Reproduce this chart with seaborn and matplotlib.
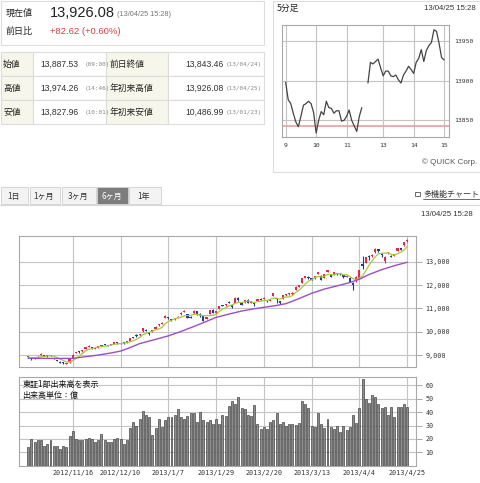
import numpy as np
import pandas as pd
import matplotlib
matplotlib.use("Agg")
import matplotlib.pyplot as plt
from matplotlib.patches import Rectangle
import seaborn as sns

sns.set_style("white")
plt.rcParams['font.family'] = ['Noto Sans CJK JP', 'DejaVu Sans']

# 5-minute prices (morning 9:00-11:30, afternoon 12:30-15:00)
am_prices = [13898, 13876, 13871, 13859, 13848, 13842, 13855, 13869, 13871, 13874, 13871,
             13860, 13834, 13850, 13861, 13857, 13874, 13866, 13865, 13859, 13862, 13862,
             13849, 13850, 13855, 13863, 13850, 13843, 13836, 13855, 13866]
pm_prices = [13897, 13923, 13921, 13924, 13927, 13916, 13906, 13912, 13912, 13906, 13905,
             13907, 13901, 13897, 13907, 13912, 13918, 13914, 13909, 13923, 13928, 13939,
             13924, 13938, 13944, 13948, 13964, 13962, 13947, 13929, 13926]
prev_close = 13843.46
intra_ticks = ['9', '10', '11', '13', '14', '15']
intra_yticks = [13850, 13900, 13950]

# daily candles 2012/10/29 - 2013/4/25
opens = [8960, 8900, 8870, 8900, 9010, 9000, 8980, 9000, 8890, 8790,
         8730, 8690, 8640, 8700, 8860, 9090, 9160, 9170, 9260, 9380,
         9360, 9300, 9330, 9420, 9470, 9440, 9440, 9500, 9550, 9490,
         9540, 9560, 9610, 9770, 9880, 9850, 10020, 10100, 9960, 10020,
         10130, 10300, 10340, 10600, 10640, 10540, 10540, 10610, 10770, 10870,
         10760, 10640, 10790, 10890, 10760, 10660, 10540, 10780, 10950, 10830,
         10980, 11150, 11130, 11270, 11130, 11250, 11470, 11240, 11260, 11380,
         11250, 11250, 11340, 11420, 11400, 11350, 11320, 11540, 11450, 11300,
         11420, 11580, 11620, 11600, 11800, 11950, 12100, 12340, 12360, 12290,
         12300, 12480, 12400, 12300, 12560, 12450, 12450, 12500, 12500, 12420,
         12360, 12320, 12090, 12180, 12300, 12916, 12960, 13260, 13250, 13400,
         13520, 13350, 13010, 13380, 13250, 13250, 13450, 13550, 13700, 13887.53]
highs = [8975, 8920, 8940, 8960, 9080, 9020, 9000, 9010, 8900, 8800,
         8740, 8700, 8680, 8840, 9040, 9160, 9170, 9230, 9370, 9420,
         9370, 9330, 9410, 9460, 9490, 9460, 9490, 9560, 9570, 9540,
         9560, 9600, 9750, 9790, 9890, 9930, 10170, 10120, 9970, 10090,
         10240, 10330, 10430, 10730, 10650, 10560, 10600, 10670, 10830, 10950,
         10770, 10660, 10930, 10900, 10800, 10670, 10650, 10940, 10960, 10880,
         11120, 11170, 11200, 11300, 11150, 11480, 11500, 11260, 11380, 11390,
         11330, 11270, 11420, 11440, 11480, 11370, 11400, 11670, 11460, 11330,
         11580, 11640, 11670, 11700, 11950, 11990, 12300, 12380, 12380, 12310,
         12400, 12570, 12420, 12480, 12650, 12460, 12560, 12520, 12530, 12440,
         12420, 12340, 12130, 12380, 12650, 13225, 13200, 13300, 13320, 13590,
         13550, 13370, 13250, 13420, 13300, 13330, 13600, 13600, 13850, 13974.26]
lows = [8900, 8820, 8850, 8880, 9000, 8950, 8940, 8950, 8830, 8740,
        8670, 8640, 8620, 8690, 8850, 9080, 9110, 9150, 9250, 9370,
        9290, 9280, 9320, 9400, 9430, 9410, 9420, 9490, 9500, 9470,
        9500, 9540, 9600, 9720, 9790, 9830, 10010, 10030, 9880, 10000,
        10120, 10250, 10330, 10590, 10560, 10480, 10520, 10590, 10730, 10840,
        10580, 10590, 10780, 10730, 10640, 10470, 10530, 10770, 10800, 10770,
        10970, 11090, 11110, 11220, 11030, 11240, 11340, 11130, 11250, 11230,
        11220, 11100, 11330, 11350, 11390, 11290, 11310, 11530, 11250, 11200,
        11410, 11520, 11570, 11570, 11790, 11900, 12090, 12290, 12260, 12200,
        12280, 12460, 12200, 12290, 12540, 12330, 12440, 12430, 12440, 12320,
        12340, 12130, 11805, 12150, 12250, 12679, 12950, 13070, 13180, 13390,
        13420, 13200, 12960, 13330, 13190, 13230, 13440, 13480, 13690, 13827.96]
closes = [8929, 8841, 8928, 8946, 9051, 8975, 8975, 8972, 8837, 8757,
          8676, 8661, 8664, 8829, 9024, 9153, 9142, 9222, 9366, 9388,
          9308, 9308, 9400, 9446, 9458, 9432, 9468, 9545, 9527, 9533,
          9525, 9581, 9742, 9737, 9828, 9923, 10160, 10040, 9940, 10080,
          10230, 10322, 10395, 10688, 10599, 10508, 10578, 10652, 10801, 10879,
          10600, 10610, 10913, 10747, 10710, 10487, 10620, 10926, 10824, 10866,
          11113, 11138, 11191, 11260, 11046, 11463, 11357, 11153, 11369, 11251,
          11307, 11173, 11407, 11372, 11468, 11309, 11385, 11662, 11398, 11254,
          11559, 11606, 11652, 11683, 11932, 11968, 12283, 12349, 12314, 12239,
          12381, 12560, 12220, 12468, 12635, 12338, 12546, 12471, 12493, 12335,
          12397, 12135, 12003, 12362, 12634, 12833, 13192, 13192, 13288, 13549,
          13485, 13275, 13221, 13382, 13220, 13316, 13568, 13529, 13843, 13926.08]

# 25-day average
ma25_idx = [0, 5, 10, 14, 18, 22, 26, 29, 32, 35, 40, 44, 48, 52, 56, 59, 63, 67, 71,
            74, 78, 81, 85, 89, 93, 98, 101, 104, 107, 111, 115, 119]
ma25_vals = [8870, 8870, 8865, 8870, 8940, 9010, 9100, 9180, 9330, 9500, 9680, 9830,
             10020, 10230, 10450, 10620, 10760, 10890, 10990, 11050, 11130, 11210, 11420,
             11650, 11830, 12000, 12110, 12250, 12450, 12660, 12830, 12975]

# TSE 1st section volume (100M shares)
volume = [14, 20, 18, 19, 19, 15, 16, 19, 15, 15,
          12.5, 15, 14, 22.5, 26, 20, 19, 19, 20, 21,
          20, 18, 19, 24, 19, 18, 18, 20, 21, 20,
          16, 19.5, 28, 33, 30, 35, 40.5, 38, 36, 23,
          28.5, 35, 29, 34, 36, 36, 38, 42, 36, 35,
          37, 39, 39, 33, 40, 34, 33, 34, 31, 35,
          31, 38, 37, 44.5, 48, 46, 51.5, 43, 42, 38,
          37, 45, 31.5, 27.5, 29, 27.5, 33, 34, 39.5, 31.5,
          33, 29.5, 31.5, 31, 30.5, 32, 48, 46, 43, 30,
          29, 39, 31.5, 28.5, 34.5, 29, 27.5, 30, 25, 30,
          26.5, 29, 38, 32, 43, 64.5, 50, 47, 53, 51.5,
          46, 43, 43.5, 38, 44, 36.5, 44, 43.5, 46, 44]
date_ticks = ['2012/11/16', '2012/12/10', '2013/1/7', '2013/1/29',
              '2013/2/20', '2013/3/13', '2013/4/4', '2013/4/25']
date_tick_idx = [14, 29, 44, 59, 74, 89, 104, 119]
price_ticks = [9000, 10000, 11000, 12000, 13000]
vol_ticks = [10, 20, 30, 40, 50, 60]

RED = '#e0284f'
NAVY = '#203c8c'
GRID = '#c4c4c4'
FRAME = '#a8a8a8'
MONO = ['DejaVu Sans Mono']
ARIAL = ['Liberation Sans']

fig = plt.figure(figsize=(4.8, 4.83), dpi=100)
W, H = 480, 483


def add_ax(l, t, r, b):
    return fig.add_axes([l / W, 1 - b / H, (r - l) / W, (b - t) / H])


def frame(ax):
    for s in ax.spines.values():
        s.set_color(FRAME)
        s.set_linewidth(0.8)
    ax.set_xlabel('')
    ax.set_ylabel('')


bg = fig.add_axes([0, 0, 1, 1], zorder=0)
bg.set_xlim(0, W)
bg.set_ylim(H, 0)
bg.axis('off')

# ---- quote header ----
bg.add_patch(Rectangle((0.5, 0.5), 263, 44, fill=False, ec='#dddddd', lw=0.8))
bg.text(6, 13, '現在値', fontsize=6.5, va='center', color='#222')
bg.text(50, 13, '13,926.08', fontsize=10.5, va='center', color='#222', family=ARIAL)
bg.text(117, 14, '(13/04/25 15:28)', fontsize=5.3, va='center', color='#777', family=ARIAL)
bg.text(6, 31, '前日比', fontsize=6.5, va='center', color='#222')
bg.text(50, 31, '+82.62 (+0.60%)', fontsize=6.8, va='center', color='#d04040', family=ARIAL)

rows = [('始値', '13,887.53', '(09:00)', '前日終値', '13,843.46', '(13/04/24)'),
        ('高値', '13,974.26', '(14:46)', '年初来高値', '13,926.08', '(13/04/25)'),
        ('安値', '13,827.96', '(10:01)', '年初来安値', '10,486.99', '(13/01/23)')]
for r, (l1, v1, t1, l2, v2, t2) in enumerate(rows):
    y0 = 52 + 24 * r
    for x0, w, fc in [(0.5, 32, '#f6f6ea'), (32.5, 73, 'white'),
                      (105.5, 62, '#f6f6ea'), (167.5, 96, 'white')]:
        bg.add_patch(Rectangle((x0, y0), w, 24, fc=fc, ec='#dcdcdc', lw=0.8))
    yc = y0 + 12
    bg.text(3, yc, l1, fontsize=6.3, va='center', color='#222')
    bg.text(40, yc, v1, fontsize=6.2, va='center', color='#333', family=ARIAL)
    bg.text(85, yc + 0.5, t1, fontsize=4.3, va='center', color='#888', family=MONO)
    bg.text(110, yc, l2, fontsize=6.3, va='center', color='#222')
    bg.text(224, yc, v2, fontsize=6.2, va='center', ha='right', color='#333', family=ARIAL)
    bg.text(226, yc + 0.5, t2, fontsize=4.3, va='center', color='#888', family=MONO)

# ---- intraday panel ----
bg.add_patch(Rectangle((273, 0.5), 210, 171, fill=False, ec='#dddddd', lw=0.8))
bg.text(277, 8, '5分足', fontsize=6.3, va='center', color='#222')
bg.text(476, 8, '13/04/25 15:28', fontsize=5.6, va='center', ha='right', color='#333', family=ARIAL)
bg.text(477, 162, '© QUICK Corp.', fontsize=5.8, va='center', ha='right', color='#555', family=ARIAL)

axi = add_ax(282, 25, 449, 137)
am_x = 9 + np.arange(len(am_prices)) / 12
pm_x = 11.7 + np.arange(len(pm_prices)) / 12
axi.axhline(prev_close, color='#e8a0a0', lw=1.2, zorder=1)
sns.lineplot(x=am_x, y=am_prices, ax=axi, color='#444', lw=0.9, zorder=3)
sns.lineplot(x=pm_x, y=pm_prices, ax=axi, color='#444', lw=0.9, zorder=3)
axi.set_xlim(8.88, 14.36)
axi.set_ylim(13829, 13970)
axi.set_xticks([9, 10, 11, 12.2, 13.2, 14.2])
axi.set_xticklabels(intra_ticks)
axi.set_yticks(intra_yticks)
axi.yaxis.tick_right()
axi.grid(True, color=GRID, lw=0.8)
axi.tick_params(length=0, labelsize=4.6, pad=4, colors='#333')
for lab in axi.get_xticklabels() + axi.get_yticklabels():
    lab.set_family(MONO)
frame(axi)

# ---- tabs ----
tabs = [('1日', 0, 27), ('1ヶ月', 29, 59), ('3ヶ月', 61, 95), ('6ヶ月', 96, 127), ('1年', 128, 160)]
for name, x0, x1 in tabs:
    active = name == '6ヶ月'
    bg.add_patch(Rectangle((x0 + 0.5, 187), x1 - x0, 17, fc='#7d7d7d' if active else '#f3f3f3',
                           ec='#d0d0d0', lw=0.6))
    bg.text((x0 + x1) / 2, 196, name, fontsize=5.8, ha='center', va='center',
            color='white' if active else '#333')
bg.plot([0, W], [204.5, 204.5], color='#d8d8d8', lw=0.8)
bg.add_patch(Rectangle((415, 192), 5, 4, fill=False, ec='#555', lw=0.6))
bg.text(423, 194, '多機能チャート', fontsize=5.8, va='center', color='#333')
bg.plot([423, 480], [199, 199], color='#333', lw=0.5)
bg.text(473, 215, '13/04/25 15:28', fontsize=5.6, va='center', ha='right', color='#333', family=ARIAL)

# ---- daily candles ----
idx = np.arange(len(closes))
axp = add_ax(19.3, 236, 415.7, 366.7)
o = np.array(opens)
c = np.array(closes)
col = np.where(c >= o, RED, NAVY)
axp.vlines(idx, lows, highs, colors=col, lw=0.8, zorder=3)
body_h = np.maximum(np.abs(c - o), 50)
axp.bar(idx, body_h, bottom=np.minimum(o, c) - (body_h - np.abs(c - o)) / 2,
        width=0.7, color=col, lw=0, zorder=4)
ma5 = pd.Series(closes).rolling(5, min_periods=1).mean()
sns.lineplot(x=idx, y=ma5, ax=axp, color='#a8c83c', lw=0.9, zorder=5)
sns.lineplot(x=ma25_idx, y=ma25_vals, ax=axp, color='#9b4dca', lw=1.0, zorder=5)
axp.set_xlim(-2.8, 121.7)
axp.set_ylim(8513, 14098)
axp.set_xticks(date_tick_idx)
axp.set_xticklabels([])
axp.set_yticks(price_ticks)
axp.set_yticklabels([f'{v:,}' for v in price_ticks])
axp.yaxis.tick_right()
axp.grid(True, color=GRID, lw=0.8)
axp.tick_params(axis='x', length=0)
axp.tick_params(axis='y', length=4, width=0.7, color=FRAME, labelsize=4.9, pad=3, labelcolor='#333')
for lab in axp.get_yticklabels():
    lab.set_family(MONO)
frame(axp)

# ---- volume ----
axv = add_ax(19.3, 377.3, 415.7, 465.7)
vol_df = pd.DataFrame({'i': idx, 'v': volume})
sns.barplot(data=vol_df, x='i', y='v', ax=axv, native_scale=True, color='#8c8c8c',
            edgecolor='#3a3a3a', linewidth=0.45, width=0.62, errorbar=None, saturation=1, zorder=3)
axv.set_xlim(-2.8, 121.7)
axv.set_ylim(0, 66)
axv.set_xticks(date_tick_idx)
axv.set_xticklabels(date_ticks)
axv.set_yticks(vol_ticks)
axv.yaxis.tick_right()
axv.grid(True, color=GRID, lw=0.8)
axv.set_axisbelow(True)
axv.tick_params(axis='x', length=0, labelsize=4.9, pad=3, labelcolor='#333')
axv.tick_params(axis='y', length=4, width=0.7, color=FRAME, labelsize=4.9, pad=3, labelcolor='#333')
for lab in axv.get_xticklabels() + axv.get_yticklabels():
    lab.set_family(MONO)
frame(axv)
axv.text(0.008, 0.92, '東証1部出来高を表示', transform=axv.transAxes, fontsize=5.8,
         va='center', color='#111', zorder=6)
axv.text(0.008, 0.80, '出来高単位：億', transform=axv.transAxes, fontsize=5.8,
         va='center', color='#111', zorder=6)

fig.savefig('out.png', dpi=100)
